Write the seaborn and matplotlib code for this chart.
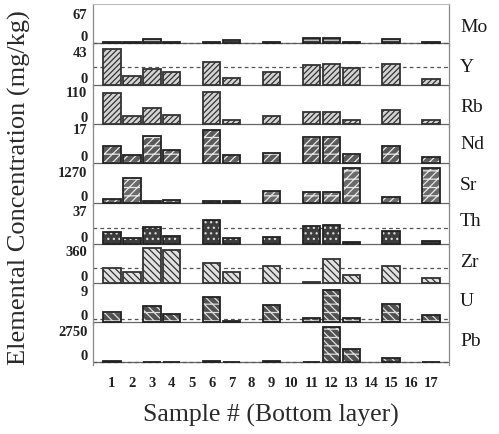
import numpy as np
import pandas as pd
import seaborn as sns
import matplotlib.pyplot as plt
from matplotlib.patches import Rectangle

nan = np.nan
samples = list(range(1, 18))

# values (mg/kg), NaN = no bar
mo = [2, 2, 10, 3, nan, 3, 7, nan, 3, nan, 11, 11, 2, nan, 9, nan, 2]
y_ = [45, 12, 20, 16.5, nan, 29.5, 9.3, nan, 16.5, nan, 25, 27, 22, nan, 27, nan, 8]
rb = [102, 27, 53, 31, nan, 108, 13, nan, 27, nan, 41, 41, 14, nan, 48, nan, 13]
nd = [8.5, 4.1, 13.3, 6.4, nan, 16, 3.7, nan, 5, nan, 12.5, 12.5, 4.5, nan, 8.5, nan, 2.9]
sr = [140, 975, 60, 130, nan, 80, 80, nan, 490, nan, 430, 430, 1400, nan, 235, nan, 1375]
th = [13.3, 6.5, 18.7, 8.3, nan, 25.9, 6.5, nan, 7.9, nan, 19.1, 20.5, 2.2, nan, 14.4, nan, 3.2]
zr = [159, 122, 386, 357, nan, 216, 116, nan, 187, nan, 10, 259, 90, nan, 187, nan, 54]
u = [2.9, nan, 4.6, 2.3, nan, 6.9, 0.3, nan, 4.9, nan, 1.2, 9.0, 1.1, nan, 5.2, nan, 2.1]
pb = [50, nan, -40, -40, nan, 60, 40, nan, 60, nan, 40, 2985, 1100, nan, 320, nan, 40]

elements = ["Mo", "Y", "Rb", "Nd", "Sr", "Th", "Zr", "U", "Pb"]
series = [mo, y_, rb, nd, sr, th, zr, u, pb]
axis_max = [67, 43, 110, 17, 1270, 37, 360, 9, 2750]
ref_level = [1, 23, None, None, None, 17, 159, 0.9, 10]

# bar styles: (face, hatch colour, hatch, light-on-dark)
styles = [
    ("#3a3a3a", "#c8c8c8", "------", True),
    ("#d4d4d4", "#333333", "//////", False),
    ("#d4d4d4", "#333333", "//////", False),
    ("#5a5a5a", "#e6e6e6", "////--", True),
    ("#6a6a6a", "#e6e6e6", "////--", True),
    ("#3c3c3c", "#d8d8d8", "...", True),
    ("#e2e2e2", "#333333", "\\\\\\\\\\", False),
    ("#505050", "#dcdcdc", "\\\\\\\\--", True),
    ("#505050", "#dcdcdc", "\\\\\\\\--", True),
]

# layout in pixels of the 499x435 figure
W, H = 499, 435
x0, x1 = 93, 449
base_px = [44, 86, 125, 164, 204, 245, 284, 323, 363]
max_px = [14, 52, 92, 129, 172, 211, 251, 291, 331]
name_px = [27, 67, 107, 145, 185, 222, 263, 302, 342]

sns.set_style("white")
plt.rcParams["font.family"] = ["Liberation Serif", "DejaVu Serif"]
plt.rcParams["hatch.linewidth"] = 0.9

fig = plt.figure(figsize=(W / 100, H / 100), dpi=100)

for i, el in enumerate(elements):
    top = 5 if i == 0 else base_px[i - 1]
    bot = base_px[i] + 3
    ax = fig.add_axes([x0 / W, 1 - bot / H, (x1 - x0) / W, (bot - top) / H])
    ax.set_facecolor("none")
    face, hcol, hatch, dark = styles[i]
    df = pd.DataFrame({"sample": samples, "value": series[i]})
    sns.barplot(data=df, x="sample", y="value", order=samples, ax=ax,
                width=0.87, color=face, errorbar=None, saturation=1)
    bars = list(ax.patches)
    for p in bars:
        p.set_hatch(hatch)
        p.set_edgecolor(hcol)
        p.set_linewidth(0 if dark else 1.3)
        if dark:
            ax.add_patch(Rectangle(p.get_xy(), p.get_width(), p.get_height(),
                                   fill=False, ec="#222222", lw=1.3))
    per_px = axis_max[i] / (base_px[i] - max_px[i])
    ax.set_ylim(-3 * per_px, (base_px[i] - top) * per_px)
    ax.set_xlim(-0.95, 16.9)
    ax.axhline(0, color="#666666", lw=0.9, zorder=0)
    if ref_level[i] is not None:
        ax.axhline(ref_level[i], color="#555555", lw=0.9, ls=(0, (3, 2.5)), zorder=0)

    for side in ["top", "bottom"]:
        ax.spines[side].set_visible(False)
    for side in ["left", "right"]:
        ax.spines[side].set_color("#8a8a8a")
        ax.spines[side].set_linewidth(0.9)
    if i == 0:
        ax.spines["top"].set_visible(True)
        ax.spines["top"].set_color("#bbbbbb")

    ax.set_ylabel("")
    ax.set_xlabel("")
    ax.tick_params(axis="y", length=2, width=0.8, pad=2, colors="#222222",
                   labelsize=10.5)
    ax.set_yticks([0, axis_max[i]], labels=["0", str(axis_max[i])])
    for t in ax.get_yticklabels():
        t.set_fontweight("bold")
    ax.get_yticklabels()[0].set_va("bottom")
    if i == len(elements) - 1:
        ax.set_xticks(range(17), labels=[str(s) for s in samples])
        ax.tick_params(axis="x", length=0, pad=8, labelsize=10.5, colors="#222222")
        for t in ax.get_xticklabels():
            t.set_fontweight("bold")
    else:
        ax.set_xticks([])

    fig.text(460 / W, 1 - name_px[i] / H, el, fontsize=14, color="#1a1a1a",
             ha="left", va="center")

fig.text(19 / W, 1 - 188 / H, "Elemental Concentration (mg/kg)", rotation=90,
         fontsize=19, color="#2a2a2a", ha="center", va="center")
fig.text(271 / W, 1 - 415 / H, "Sample # (Bottom layer)", fontsize=18.5,
         color="#2a2a2a", ha="center", va="center")

fig.savefig("out.png", dpi=100)
